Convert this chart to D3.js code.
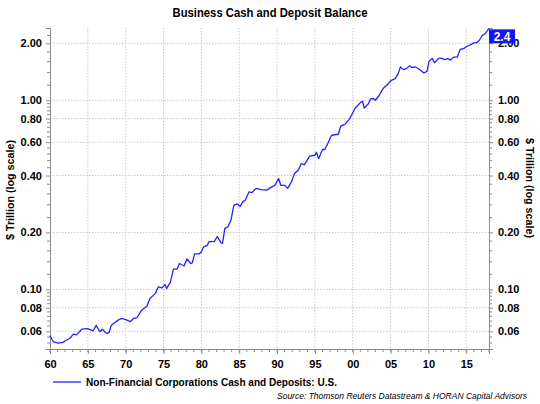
<!DOCTYPE html>
<html><head><meta charset="utf-8">
<script src="https://cdn.jsdelivr.net/npm/d3@7"></script>
<style>
html,body{margin:0;padding:0;background:#fff;}
svg{display:block;font-family:"Liberation Sans",Arial,sans-serif;}
</style></head>
<body>
<svg id="chart" width="540" height="404"></svg>
<script>
const title = "Business Cash and Deposit Balance";
const seriesName = "Non-Financial Corporations Cash and Deposits: U.S.";
const sourceText = "Source: Thomson Reuters Datastream & HORAN Capital Advisors";
const yTitle = "$ Trillion (log scale)";
const lastLabel = "2.4";

const years = [
 1960.0,1960.4,1961.1,1961.7,1962.2,1962.6,1963.1,1963.5,1963.9,1964.2,
 1965.0,1965.7,1966.1,1966.6,1966.9,1967.5,1967.8,1968.1,1969.0,1969.5,
 1970.1,1970.6,1971.0,1971.5,1972.1,1972.8,1973.2,1973.9,1974.3,1974.8,
 1975.2,1975.4,1975.9,1976.3,1976.8,1977.1,1977.7,1978.1,1978.6,1978.8,
 1979.1,1979.7,1980.0,1980.3,1980.8,1981.0,1981.7,1982.1,1982.6,1982.8,
 1983.1,1983.5,1983.9,1984.3,1984.8,1985.1,1985.5,1985.8,1986.3,1986.7,
 1987.2,1987.9,1988.6,1989.2,1989.7,1990.2,1990.5,1991.0,1991.4,1991.9,
 1992.3,1992.8,1993.2,1993.6,1994.3,1995.0,1995.2,1995.5,1996.0,1996.3,
 1996.7,1997.2,1998.1,1998.4,1999.0,1999.6,2000.3,2001.0,2001.3,2001.5,
 2002.0,2002.4,2002.7,2003.0,2003.5,2004.0,2004.5,2005.1,2005.6,2006.0,
 2006.3,2006.7,2007.1,2007.5,2007.8,2008.3,2008.8,2009.4,2009.8,2010.1,
 2010.5,2010.8,2011.4,2011.7,2012.1,2012.6,2012.9,2013.3,2013.8,2014.2,
 2014.7,2015.1,2015.6,2016.0,2016.4,2016.7,2017.1,2017.5,2018.0
];
const values = [
 0.057,0.053,0.052,0.0525,0.054,0.055,0.058,0.0575,0.0597,0.0616,
 0.062,0.0604,0.0645,0.0597,0.0616,0.0585,0.059,0.0647,0.0688,0.0703,
 0.069,0.0675,0.070,0.071,0.0775,0.0815,0.0895,0.095,0.103,0.102,
 0.106,0.101,0.109,0.128,0.128,0.137,0.133,0.145,0.137,0.138,
 0.154,0.154,0.158,0.168,0.171,0.179,0.179,0.19,0.176,0.175,
 0.21,0.214,0.232,0.279,0.283,0.274,0.291,0.296,0.328,0.325,
 0.342,0.337,0.335,0.346,0.355,0.386,0.355,0.355,0.342,0.37,
 0.41,0.427,0.463,0.455,0.506,0.512,0.53,0.492,0.549,0.549,
 0.59,0.653,0.661,0.729,0.747,0.80,0.904,0.972,0.988,0.91,
 0.949,1.02,1.02,1.0,1.063,1.153,1.2,1.275,1.30,1.383,
 1.50,1.452,1.47,1.52,1.49,1.50,1.458,1.394,1.42,1.61,
 1.66,1.58,1.67,1.67,1.64,1.66,1.63,1.69,1.69,1.86,
 1.88,1.93,1.97,2.01,2.02,2.07,2.2,2.25,2.4
];

const xMajorTicks = [1960,1965,1970,1975,1980,1985,1990,1995,2000,2005,2010,2015];
const xMinorTicks = d3.range(1960, 2019, 1);
const yMajorTicks = [0.06,0.08,0.10,0.20,0.40,0.60,0.80,1.00,2.00];
const yMinorTicks = [0.052,0.056,0.064,0.068,0.072,0.076,0.084,0.088,0.092,0.096,
  0.12,0.14,0.16,0.18,0.24,0.28,0.32,0.36,0.44,0.48,0.52,0.56,0.64,0.68,0.72,0.76,
  0.84,0.88,0.92,0.96,1.2,1.4,1.6,1.8,2.2];

const svg = d3.select("#chart");
const L = 50, R = 489, T = 28, B = 349;
const x = d3.scaleLinear().domain([1960, 2018]).range([L, R]);
const y = d3.scaleLog().domain([0.0484, 2.41]).range([B, T]);
const axisColor = "#8c8c8c";
const gridColor = "#c8c8c8";

// grid
svg.append("g").selectAll("line.h").data(yMajorTicks).join("line")
  .attr("x1", L).attr("x2", R).attr("y1", d => y(d)).attr("y2", d => y(d))
  .attr("stroke", gridColor).attr("stroke-width", 1).attr("stroke-dasharray", "1.5,1.5");
svg.append("g").selectAll("line.v").data(xMajorTicks.filter(d => d > 1960)).join("line")
  .attr("x1", d => x(d)).attr("x2", d => x(d)).attr("y1", T).attr("y2", B)
  .attr("stroke", gridColor).attr("stroke-width", 1).attr("stroke-dasharray", "1.5,1.5");

// axes
function styleAxis(g) {
  g.select(".domain").attr("stroke", axisColor);
  g.selectAll(".tick line").attr("stroke", axisColor);
  g.selectAll(".tick text").attr("fill", "#000").attr("font-weight", "bold").attr("font-size", "11px");
}
const fmtY = d3.format(".2f");
const yl = svg.append("g").attr("transform", `translate(${L},0)`)
  .call(d3.axisLeft(y).tickValues(yMajorTicks).tickFormat(fmtY).tickSizeOuter(0).tickSize(4).tickPadding(4));
styleAxis(yl);
yl.append("g").selectAll("line").data(yMinorTicks).join("line")
  .attr("x1", -3).attr("x2", 0).attr("y1", d => y(d)).attr("y2", d => y(d)).attr("stroke", axisColor);

const yr = svg.append("g").attr("transform", `translate(${R},0)`)
  .call(d3.axisRight(y).tickValues(yMajorTicks).tickFormat(fmtY).tickSizeOuter(0).tickSize(4).tickPadding(5));
styleAxis(yr);
yr.append("g").selectAll("line").data(yMinorTicks).join("line")
  .attr("x1", 0).attr("x2", 3).attr("y1", d => y(d)).attr("y2", d => y(d)).attr("stroke", axisColor);

const xa = svg.append("g").attr("transform", `translate(0,${B})`)
  .call(d3.axisBottom(x).tickValues(xMajorTicks).tickFormat(d => String(d % 100).padStart(2, "0"))
  .tickSizeOuter(0).tickSize(5).tickPadding(6));
styleAxis(xa);
xa.append("g").selectAll("line").data(xMinorTicks).join("line")
  .attr("x1", d => x(d)).attr("x2", d => x(d)).attr("y1", 0).attr("y2", 3).attr("stroke", axisColor);

// line
const data = years.map((yr, i) => ({ year: yr, value: values[i] }));
svg.append("path").datum(data)
  .attr("fill", "none").attr("stroke", "#2323ff").attr("stroke-width", 1.3)
  .attr("stroke-linejoin", "round")
  .attr("d", d3.line().x(d => x(d.year)).y(d => y(d.value)));

// last value label
const last = data[data.length - 1];
const ly = y(last.value);
svg.append("rect").attr("x", R).attr("y", ly + 1).attr("width", 26).attr("height", 14).attr("fill", "#1414ff");
svg.append("text").attr("x", R + 13).attr("y", ly + 12.5).attr("text-anchor", "middle")
  .attr("fill", "#fff").attr("font-weight", "bold").attr("font-size", "12px").text(lastLabel);

// title
svg.append("text").attr("x", 270).attr("y", 17).attr("text-anchor", "middle")
  .attr("font-weight", "bold").attr("font-size", "13px").attr("fill", "#000")
  .attr("textLength", 195).attr("lengthAdjust", "spacingAndGlyphs").text(title);

// y titles
svg.append("text").attr("transform", "translate(14,190) rotate(-90)").attr("text-anchor", "middle")
  .attr("font-weight", "bold").attr("font-size", "11px").attr("fill", "#000")
  .attr("textLength", 100).attr("lengthAdjust", "spacingAndGlyphs").text(yTitle);
svg.append("text").attr("transform", "translate(526,188) rotate(90)").attr("text-anchor", "middle")
  .attr("font-weight", "bold").attr("font-size", "11px").attr("fill", "#000")
  .attr("textLength", 100).attr("lengthAdjust", "spacingAndGlyphs").text(yTitle);

// legend
svg.append("line").attr("x1", 53).attr("x2", 81).attr("y1", 382).attr("y2", 382)
  .attr("stroke", "#2323ff").attr("stroke-width", 1.3);
svg.append("text").attr("x", 86).attr("y", 386).attr("font-weight", "bold").attr("font-size", "11px")
  .attr("fill", "#000").attr("textLength", 251).attr("lengthAdjust", "spacingAndGlyphs").text(seriesName);

// source
svg.append("text").attr("x", 527).attr("y", 399).attr("text-anchor", "end").attr("font-style", "italic")
  .attr("font-size", "8.5px").attr("fill", "#000").attr("textLength", 250).attr("lengthAdjust", "spacingAndGlyphs")
  .text(sourceText);
</script>
</body></html>
